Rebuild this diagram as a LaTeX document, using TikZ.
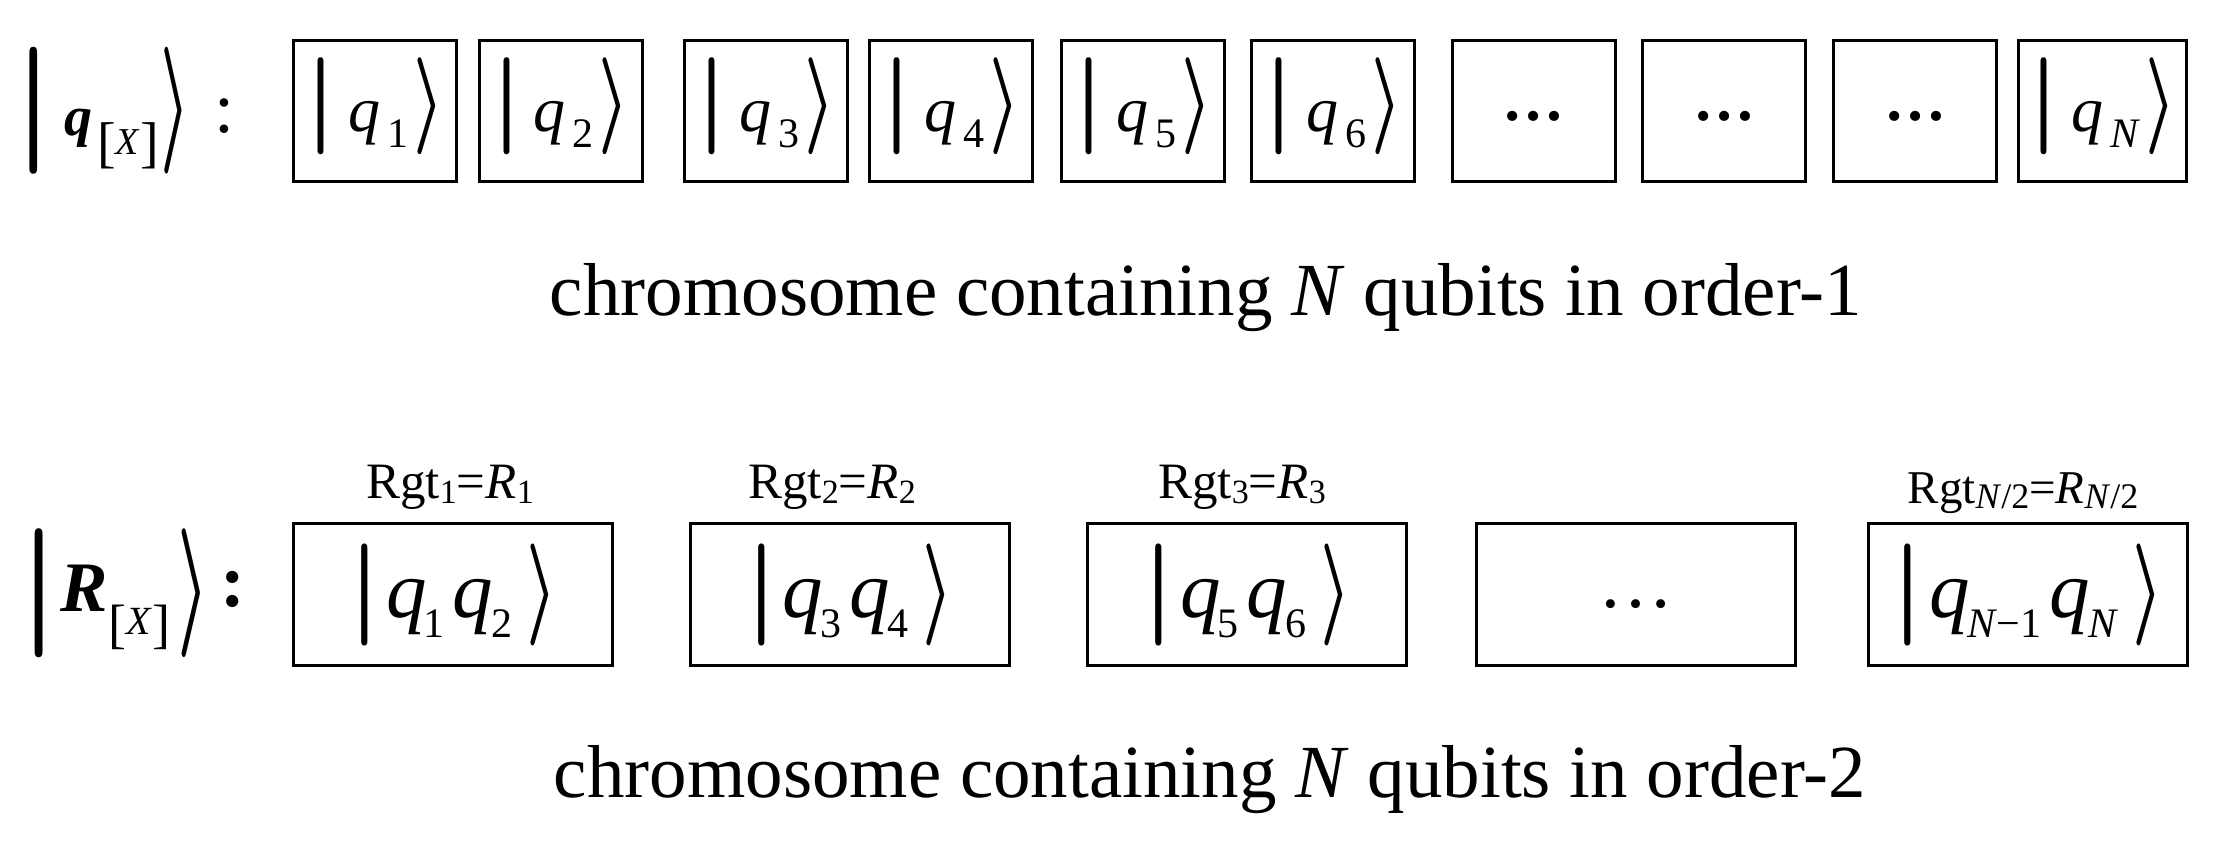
\documentclass[tikz,border=0pt]{standalone}
\usepackage{fontspec}
\setmainfont{Liberation Serif}
\usepackage{graphicx}
\newcommand{\fs}[1]{\fontsize{#1}{#1}\selectfont}
\newcommand{\Lbar}[2]{\raisebox{#2}{\resizebox*{!}{#1}{\boldmath$\vert$}}}
\newcommand{\Rang}[3]{\raisebox{#3}{\resizebox*{#2}{#1}{\boldmath$\rangle$}}}
\newcommand{\tket}[1]{{\fs{64}\Lbar{97pt}{0pt}\hspace{12pt}\textit{q}\hspace{7pt}\raisebox{-17pt}{\fs{42}#1}\hspace{5pt}\Rang{97pt}{31pt}{0pt}}}
\newcommand{\bket}[2]{{\fs{81}\Lbar{102pt}{-3.5pt}\hspace{5pt}\textit{q}\hspace{-3pt}\raisebox{-20pt}{\fs{42}#1}\hspace{8pt}\textit{q}\hspace{-2pt}\raisebox{-20pt}{\fs{42}#2}\hspace{14pt}\Rang{102pt}{31pt}{-3.5pt}}}
\newcommand{\rgt}[3]{{\fs{#2}Rgt\raisebox{-5pt}{\fs{#3}#1}=\textit{R}\raisebox{-5pt}{\fs{#3}#1}}}
\tikzset{
  cell/.style={draw, line width=3pt, inner sep=0pt},
  topcell/.style={cell, minimum width=163pt, minimum height=141pt},
  botcell/.style={cell, minimum width=319pt, minimum height=142pt},
  txt/.style={inner sep=0pt, anchor=base}
}
\begin{document}
\begin{tikzpicture}[x=1pt, y=-1pt]
\fill[white] (0,0) rectangle (2228,843);
\useasboundingbox (0,0) rectangle (2228,843);
% top row
\node[txt, anchor=base west] (qlab) at (13.5,135) {{\fs{56}\Lbar{127pt}{-8pt}\hspace{10pt}\textbf{\textit{q}}\hspace{5pt}\raisebox{-26pt}{\fs{56}[}\raisebox{-20pt}{\fs{38}\textit{X}}\raisebox{-26pt}{\fs{56}]}\hspace{1pt}\Rang{127pt}{30pt}{-8pt}\hspace{24pt}{\fs{72}\raisebox{2pt}{:}}}};
\node[topcell] (t1) at (375,111) {};
\node[topcell] (t2) at (560.5,111) {};
\node[topcell] (t3) at (766,111) {};
\node[topcell] (t4) at (951,111) {};
\node[topcell] (t5) at (1142.5,111) {};
\node[topcell] (t6) at (1333,111) {};
\node[topcell] (t7) at (1533.5,111) {};
\node[topcell] (t8) at (1724,111) {};
\node[topcell] (t9) at (1915,111) {};
\node[topcell, minimum width=168pt] (t10) at (2102.5,111) {};
\node[txt] (k1) at (375,131) {\tket{1}};
\node[txt] (k2) at (560.5,131) {\tket{2}};
\node[txt] (k3) at (766,131) {\tket{3}};
\node[txt] (k4) at (951,131) {\tket{4}};
\node[txt] (k5) at (1142.5,131) {\tket{5}};
\node[txt] (k6) at (1333,131) {\tket{6}};
\node[txt] (d7) at (1533.5,120) {\fs{62}\textbf{…}};
\node[txt] (d8) at (1724,120) {\fs{62}\textbf{…}};
\node[txt] (d9) at (1915,120) {\fs{62}\textbf{…}};
\node[txt] (k10) at (2102.5,131) {\tket{\textit{N}}};
\node[txt] (cap1) at (1206,315) {\fs{75}chromosome containing \textit{N} qubits in order-1};
% bottom row
\node[txt, anchor=base west] (rlab) at (18,611) {{\fs{71}\Lbar{129pt}{-14pt}\hspace{1pt}\textbf{\textit{R}}\hspace{1pt}\raisebox{-31pt}{\fs{54}[}\raisebox{-23pt}{\fs{40}\textit{X}}\raisebox{-31pt}{\fs{54}]}\hspace{7pt}\Rang{129pt}{32pt}{-14pt}\hspace{11pt}{\fs{75}\raisebox{5pt}{\textbf{:}}}}};
\node[botcell] (b1) at (453,594.5) {};
\node[botcell] (b2) at (849.5,594.5) {};
\node[botcell] (b3) at (1247,594.5) {};
\node[botcell] (b4) at (1636,594.5) {};
\node[botcell] (b5) at (2027.5,594.5) {};
\node[txt] (r1) at (450,498) {\rgt{1}{51}{34}};
\node[txt] (r2) at (832,498) {\rgt{2}{51}{34}};
\node[txt] (r3) at (1242,498) {\rgt{3}{51}{34}};
\node[txt] (r4) at (2023,503) {\rgt{\textit{N}/2}{47}{36}};
\node[txt] (p1) at (453,617) {\bket{1}{2}};
\node[txt] (p2) at (849.5,617) {\bket{3}{4}};
\node[txt] (p3) at (1247,617) {\bket{5}{6}};
\node[txt] (p4) at (1636,607) {\fs{75}…};
\node[txt] (p5) at (2027.5,617) {\bket{\textit{N}−1}{\textit{N}}};
\node[txt] (cap2) at (1210,797) {\fs{75}chromosome containing \textit{N} qubits in order-2};
\end{tikzpicture}
\end{document}
